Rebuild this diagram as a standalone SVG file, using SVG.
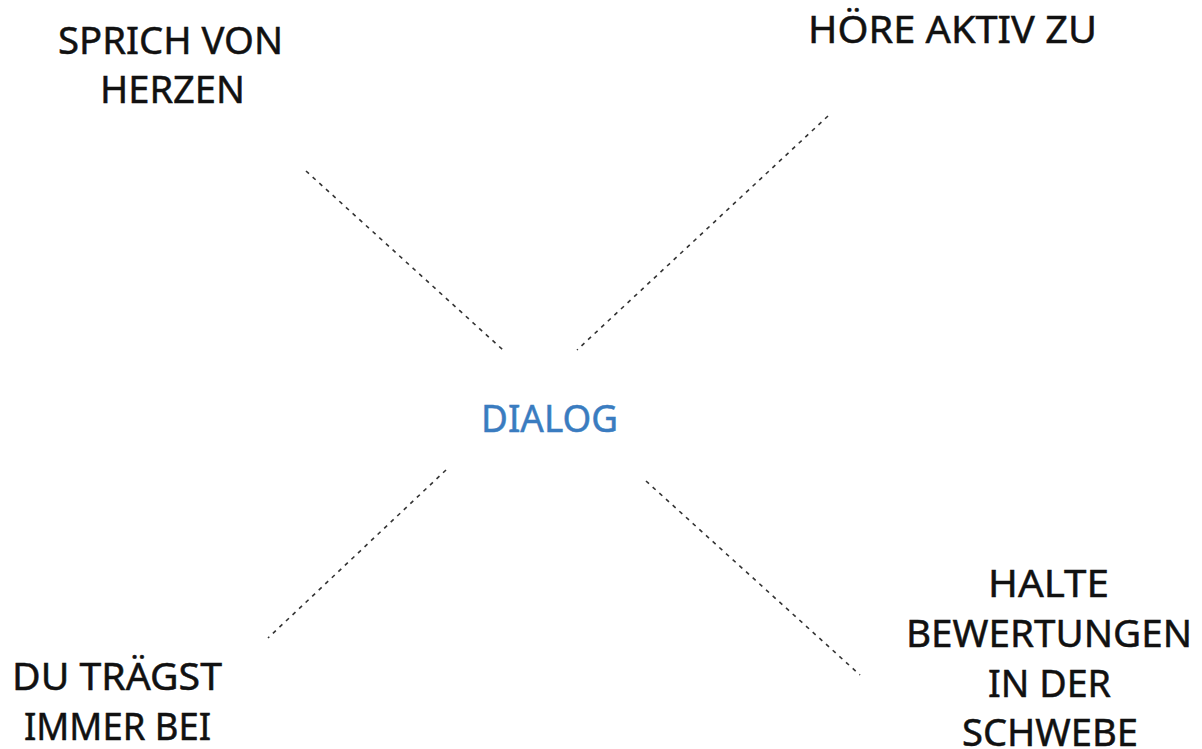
<svg xmlns="http://www.w3.org/2000/svg" width="1202" height="749" viewBox="0 0 1202 749">
<style>
.t{font-family:"Noto Sans","DejaVu Sans",sans-serif;font-size:39px;fill:#111;stroke:#111;stroke-width:0.5;text-anchor:middle}
.c{fill:#3a7cc0;stroke:#3a7cc0}
.l{stroke:#333;stroke-width:1.6;stroke-dasharray:4 5;fill:none}
</style>
<rect width="1202" height="749" fill="#fff"/>
<g id="connectors">
<line class="l" x1="306" y1="171" x2="503" y2="350"/>
<line class="l" x1="828" y1="116" x2="577" y2="350"/>
<line class="l" x1="446" y1="470" x2="268" y2="638"/>
<line class="l" x1="646" y1="481" x2="860" y2="675"/>
</g>
<g id="center"><text class="t c" x="549.5" y="432" textLength="137" lengthAdjust="spacingAndGlyphs">DIALOG</text></g>
<g id="n1"><text class="t" x="170.5" y="54" textLength="225" lengthAdjust="spacingAndGlyphs">SPRICH VON</text><text class="t" x="172.5" y="103" textLength="145" lengthAdjust="spacingAndGlyphs">HERZEN</text></g>
<g id="n2"><text class="t" x="952.5" y="43" textLength="289" lengthAdjust="spacingAndGlyphs">HÖRE AKTIV ZU</text></g>
<g id="n3"><text class="t" x="117" y="690" textLength="210" lengthAdjust="spacingAndGlyphs">DU TRÄGST</text><text class="t" x="117.5" y="740" textLength="187" lengthAdjust="spacingAndGlyphs">IMMER BEI</text></g>
<g id="n4"><text class="t" x="1048.5" y="597" textLength="121" lengthAdjust="spacingAndGlyphs">HALTE</text><text class="t" x="1049" y="647" textLength="286" lengthAdjust="spacingAndGlyphs">BEWERTUNGEN</text><text class="t" x="1049.5" y="697" textLength="123" lengthAdjust="spacingAndGlyphs">IN DER</text><text class="t" x="1050" y="746" textLength="176" lengthAdjust="spacingAndGlyphs">SCHWEBE</text></g>
</svg>
